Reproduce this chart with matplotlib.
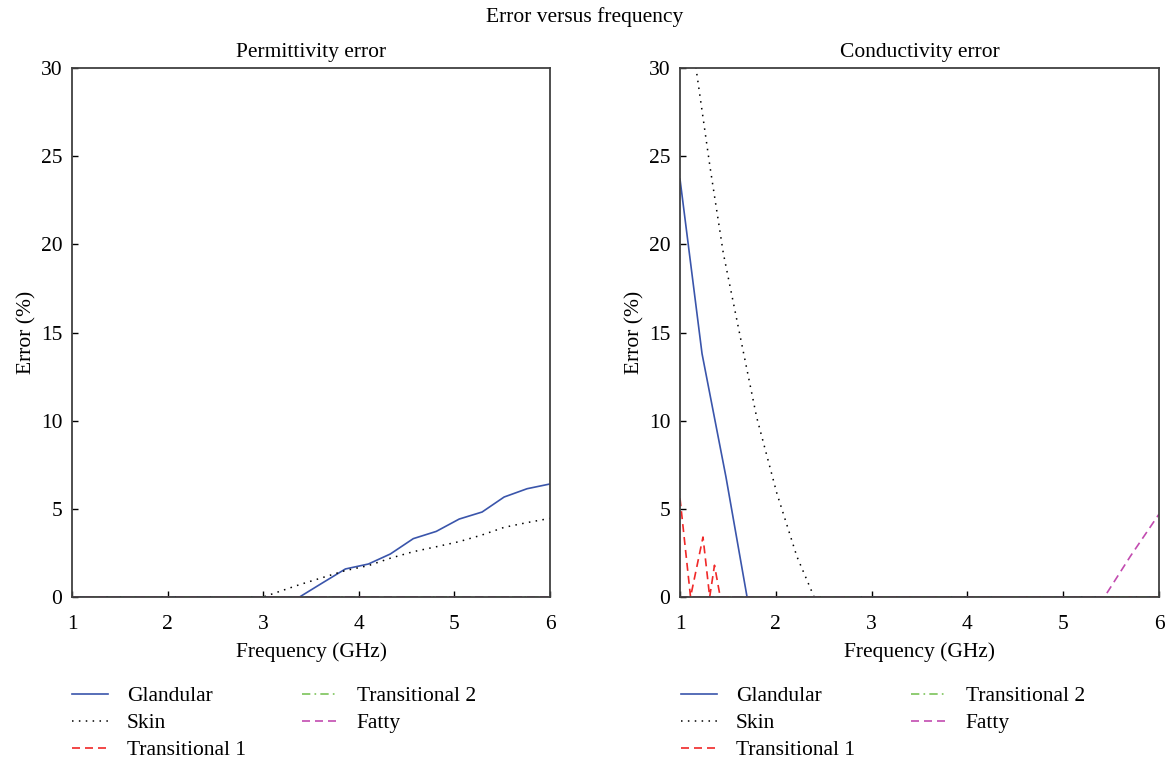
import matplotlib
matplotlib.use("Agg")
import matplotlib.pyplot as plt

plt.rcParams['font.family'] = ['Liberation Serif', 'DejaVu Serif']
plt.rcParams['font.size'] = 15.5

# Permittivity error (left panel)
perm_gland_f = [1.0, 3.38, 3.62, 3.86, 4.10, 4.33, 4.57, 4.81, 5.05, 5.29, 5.52, 5.76, 6.0]
perm_gland_e = [0.0, 0.0, 0.8, 1.59, 1.87, 2.44, 3.31, 3.72, 4.42, 4.82, 5.67, 6.14, 6.41]
perm_skin_f = [1.0, 3.0, 3.38, 3.62, 3.86, 4.10, 4.33, 4.57, 4.81, 5.05, 5.29, 5.52, 5.76, 6.0]
perm_skin_e = [0.0, 0.0, 0.7, 1.1, 1.5, 1.78, 2.2, 2.57, 2.85, 3.14, 3.52, 3.95, 4.22, 4.46]
perm_t1_f = [1.0, 6.0]
perm_t1_e = [0.0, 0.0]
perm_t2_f = [1.0, 6.0]
perm_t2_e = [0.0, 0.0]
perm_fat_f = [1.0, 6.0]
perm_fat_e = [0.0, 0.0]

# Conductivity error (right panel)
cond_gland_f = [1.0, 1.23, 1.48, 1.70, 6.0]
cond_gland_e = [23.7, 13.8, 6.8, 0.0, 0.0]
cond_skin_f = [1.0, 1.167, 1.313, 1.452, 1.605, 1.80, 2.01, 2.22, 2.40, 6.0]
cond_skin_e = [36.5, 30.0, 24.4, 19.5, 15.4, 10.2, 5.9, 2.3, 0.0, 0.0]
cond_t1_f = [1.0, 1.11, 1.24, 1.31, 1.36, 1.42, 6.0]
cond_t1_e = [5.6, 0.0, 3.4, 0.0, 1.8, 0.0, 0.0]
cond_t2_f = [1.0, 6.0]
cond_t2_e = [0.0, 0.0]
cond_fat_f = [1.0, 5.43, 5.70, 6.0]
cond_fat_e = [0.0, 0.0, 2.3, 4.7]

labels = ["Glandular", "Skin", "Transitional 1", "Transitional 2", "Fatty"]
styles = [
    dict(color="#3a55ab", lw=1.2, ls="-"),
    dict(color="black", lw=1.1, ls=(0, (1, 3.5))),
    dict(color="#f02828", lw=1.2, ls=(0, (4.8, 3))),
    dict(color="#7cc35a", lw=1.2, ls=(0, (5, 2.5, 1, 2.5))),
    dict(color="#c24bb0", lw=1.2, ls=(0, (4.8, 3))),
]

fig = plt.figure(figsize=(11.7, 7.59), dpi=100)
ax1 = fig.add_axes([72/1170, 1-597/759, 478/1170, 529/759])
ax2 = fig.add_axes([680/1170, 1-597/759, 479/1170, 529/759])

panels = [
    (ax1, "Permittivity error",
     [(perm_gland_f, perm_gland_e), (perm_skin_f, perm_skin_e), (perm_t1_f, perm_t1_e),
      (perm_t2_f, perm_t2_e), (perm_fat_f, perm_fat_e)], 72/1170),
    (ax2, "Conductivity error",
     [(cond_gland_f, cond_gland_e), (cond_skin_f, cond_skin_e), (cond_t1_f, cond_t1_e),
      (cond_t2_f, cond_t2_e), (cond_fat_f, cond_fat_e)], 681/1170),
]

for ax, title, series, lx in panels:
    lines = []
    for (f, e), st, lab in zip(series, styles, labels):
        ln, = ax.plot(f, e, label=lab, **st)
        lines.append(ln)
    ax.set_xlim(1, 6)
    ax.set_ylim(0, 30)
    ax.set_xticks([1, 2, 3, 4, 5, 6])
    ax.set_yticks([0, 5, 10, 15, 20, 25, 30])
    ax.tick_params(direction="in", length=4, width=1, top=False, right=False)
    ax.tick_params(axis="x", pad=13)
    ax.tick_params(axis="y", pad=7)
    for sp in ax.spines.values():
        sp.set_color("#404040")
        sp.set_linewidth(1.3)
    ax.set_title(title, pad=8, fontsize=15.5)
    ax.set_xlabel("Frequency (GHz)", labelpad=6)
    ax.set_ylabel("Error (%)", labelpad=3)
    fig.legend(handles=lines, loc="upper left", bbox_to_anchor=(lx, 1-686/759),
               ncol=2, frameon=False, handlelength=1.65, handletextpad=0.9,
               columnspacing=2.6, labelspacing=0.33, borderaxespad=0, borderpad=0)

fig.suptitle("Error versus frequency", y=1-7/759, va="top", fontsize=15.5)

fig.savefig("out.png", dpi=100)
